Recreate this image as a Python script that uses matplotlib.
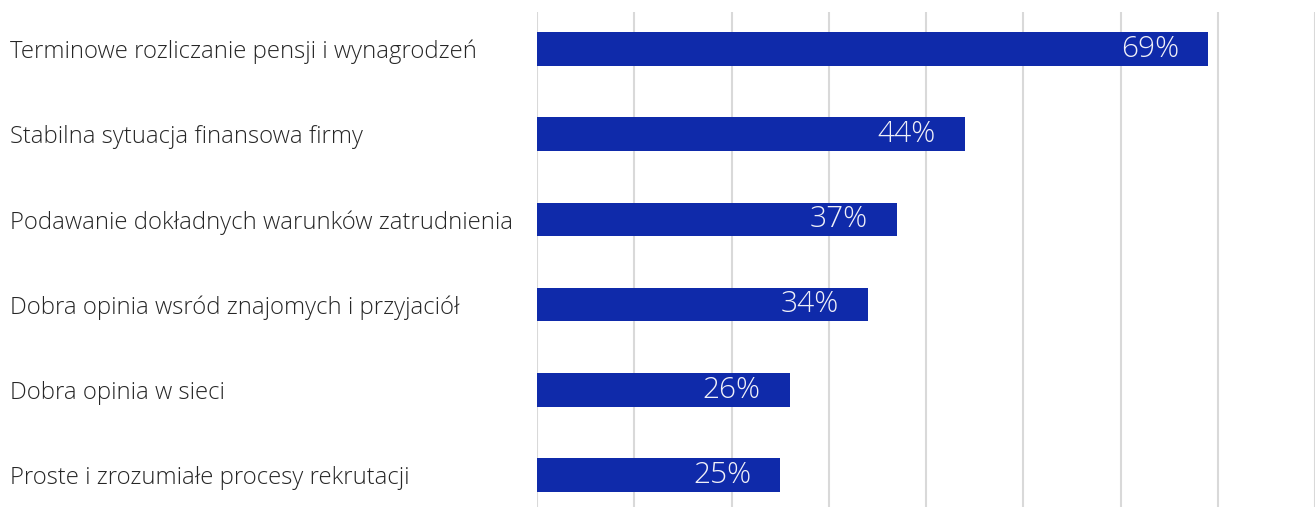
import numpy as np
import matplotlib.pyplot as plt

# dane
kategorie = [
    "Terminowe rozliczanie pensji i wynagrodzeń",
    "Stabilna sytuacja finansowa firmy",
    "Podawanie dokładnych warunków zatrudnienia",
    "Dobra opinia wsród znajomych i przyjaciół",
    "Dobra opinia w sieci",
    "Proste i zrozumiałe procesy rekrutacji",
]
wartosci = [69, 44, 37, 34, 26, 25]
etykiety = ["69%", "44%", "37%", "34%", "26%", "25%"]

plt.rcParams["font.family"] = ["Open Sans", "DejaVu Sans"]

W, H = 1316, 507
fig = plt.figure(figsize=(W / 100, H / 100), dpi=100)

# oś: 0% przy x=537, 80% przy x=1315
left = 537 / W
right = 1315 / W
top = 1 - 12 / H
step = 85.2
bottom = 1 - (12 + 6 * step) / H
ax = fig.add_axes([left, bottom, right - left, top - bottom])

y = np.arange(len(kategorie))
ax.barh(y, wartosci, height=33.5 / step, color="#0f2aaa", zorder=3)

ax.set_xlim(0, 80)
ax.set_ylim(len(kategorie) - 0.5 + 0.066, -0.5 + 0.066)
ax.set_xticks(np.arange(0, 81, 10))
ax.grid(axis="x", color="#d9d9d9", linewidth=1.5, zorder=0)
ax.tick_params(axis="x", length=0, labelbottom=False)
for s in ax.spines.values():
    s.set_visible(False)

ax.set_yticks(y)
ax.set_yticklabels(kategorie, fontsize=17.2, color="#262626", fontweight="light")
ax.tick_params(axis="y", length=0, pad=(537 - 10) * 0.72)
for t in ax.get_yticklabels():
    t.set_horizontalalignment("left")

for yi, v, lab in zip(y, wartosci, etykiety):
    ax.annotate(lab, (v, yi), xytext=(-29 * 0.72, 0), textcoords="offset points",
                ha="right", va="center", color="#f0f0f8", fontsize=21.5,
                fontweight="light", zorder=4)

fig.savefig("out.png", dpi=100)
